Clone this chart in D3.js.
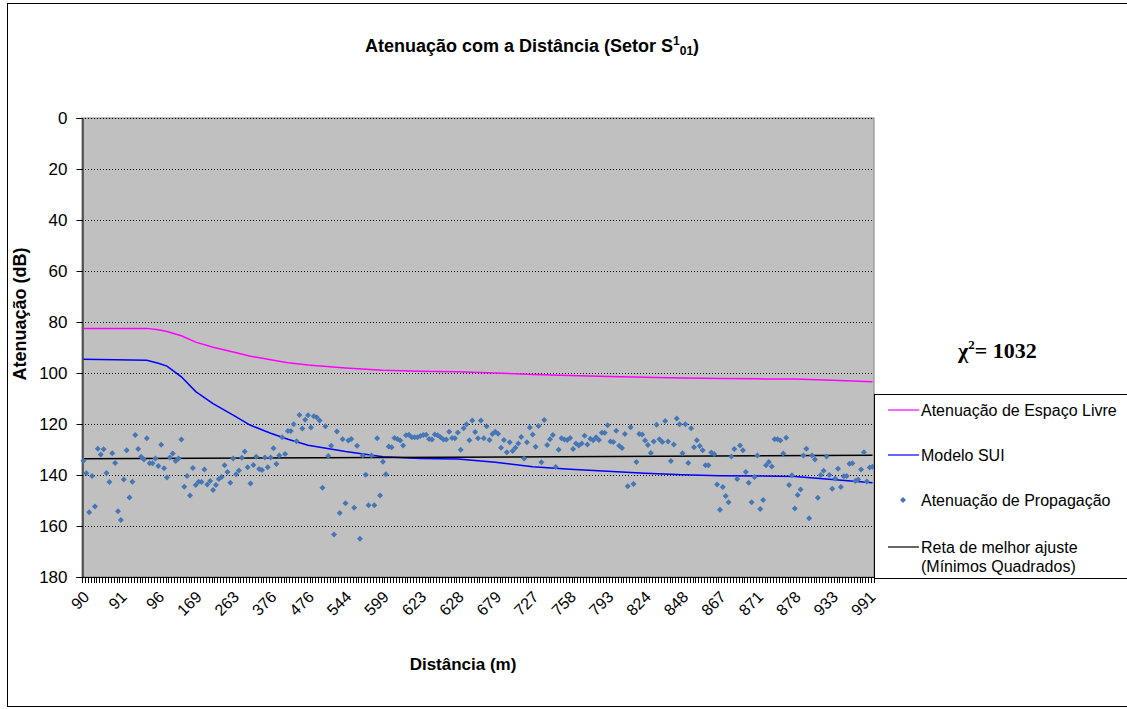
<!DOCTYPE html>
<html>
<head>
<meta charset="utf-8">
<script src="https://cdn.jsdelivr.net/npm/d3@7"></script>
<style>
body { margin: 0; background: #fff; }
</style>
</head>
<body>
<svg width="1127" height="709" font-family="Arial, 'Liberation Sans', sans-serif"></svg>
<script>
// ### Data ###
var distLabels = [90, 91, 96, 169, 263, 376, 476, 544, 599, 623, 628, 679, 727, 758, 793, 824, 848, 867, 871, 878, 933, 991];
var labelEvery = 13;
var yTicks = [0, 20, 40, 60, 80, 100, 120, 140, 160, 180];

// measured attenuation, one per category
var measured = [
  134.4, 139.3, 154.6, 140.4, 152.4, 129.7, 132.0, 129.9, 139.2, 142.7,
  131.5, 135.3, 154.2, 157.6, 141.8, 130.3, 148.8, 142.6, 124.3, 129.8,
  132.8, 133.9, 125.6, 135.4, 135.4, 133.5, 136.5, 128.1, 137.4, 141.0,
  133.1, 131.6, 134.5, 133.5, 126.1, 144.6, 140.4, 148.0, 137.3, 143.9,
  142.6, 142.7, 137.8, 143.7, 142.4, 145.9, 143.9, 141.6, 140.8, 136.2,
  138.8, 143.0, 133.5, 139.7, 138.2, 133.2, 130.8, 137.0, 143.3, 136.1,
  132.8, 137.6, 138.0, 133.1, 137.0, 133.1, 129.5, 135.7, 132.4,
  125.2, 131.8, 122.7, 122.7, 120.1, 126.8, 116.5, 121.8, 118.3, 116.6,
  121.4, 117.0, 117.4, 118.6, 145.0, 120.9, 132.5, 128.5, 163.3, 122.9,
  154.9, 126.0, 151.1, 126.5, 125.9, 152.8, 128.5, 165.0, 132.4, 139.9,
  151.9, 132.4, 151.9, 125.6, 148.0, 134.8, 139.7, 128.8, 129.1, 125.5,
  125.9, 126.5, 128.4, 124.4, 124.2, 125.2, 125.2, 125.2, 124.7, 124.3,
  124.2, 125.9, 126.1, 124.1, 124.4, 125.2, 126.1, 126.1, 123.0, 125.5,
  125.6, 123.3, 130.1, 121.7, 120.1, 126.4, 118.6, 123.1,
  125.6, 118.6, 125.6, 120.9, 126.3, 123.9, 123.0, 123.8, 129.3, 126.3,
  131.1, 127.2, 130.6, 129.3, 127.6, 125.1, 133.5, 127.2, 121.4, 124.1,
  128.9, 120.8, 135.0, 118.4, 128.2, 126.0, 124.3, 136.9, 130.1, 125.6,
  126.1, 126.3, 125.5, 129.8, 127.6, 128.4, 127.6, 124.6, 128.0, 125.8,
  126.4, 125.2, 126.3, 123.4, 123.4, 120.5, 126.9, 127.1, 122.6, 128.5,
  129.4, 123.9, 144.4, 121.3, 143.5, 134.9, 123.9, 124.1, 126.5, 128.2,
  131.4, 126.9, 120.3, 126.0, 127.1, 118.8, 126.9, 134.5, 128.0,
  117.8,
  120.1, 131.5, 120.1, 135.3, 121.7, 129.1, 126.4, 128.6, 130.3, 136.2,
  136.2, 131.2, 131.8, 143.7, 153.6, 144.7, 148.2, 150.7, 132.7, 129.8,
  141.6, 128.4, 130.3, 138.8, 143.0, 150.7, 140.8, 132.4, 153.3, 149.8,
  136.2, 134.9, 136.7, 126.0, 126.0, 126.5, 131.6, 125.4, 143.9, 140.1,
  153.1, 147.8, 145.7, 132.4, 129.7, 157.0, 132.4, 133.9, 148.9, 140.0,
  138.3, 132.7, 140.0, 145.4, 141.4, 137.5, 144.7, 140.5, 140.4, 135.6,
  135.4, 142.4, 141.8, 137.8, 131.1, 142.5, 137.1, 136.8
];

// model curves, read at these category indices
var curveIdx  = [0, 22, 26, 29, 34, 39, 45, 52, 58, 65, 71, 78, 91, 104, 117, 130, 143, 156, 169, 182, 195, 208, 221, 234, 247, 260, 274];
var freeSpace = [82.5, 82.5, 83.0, 83.7, 85.4, 87.9, 89.9, 91.8, 93.4, 94.8, 96.0, 96.9, 98.0, 98.9, 99.3, 99.5, 100.0, 100.6, 101.0, 101.4, 101.7, 102.0, 102.2, 102.3, 102.4, 102.8, 103.4];
var suiModel  = [94.6, 95.0, 96.2, 97.3, 101.5, 107.3, 112.0, 116.5, 120.5, 123.6, 126.0, 128.3, 130.8, 132.8, 133.5, 133.7, 135.0, 136.8, 137.7, 138.5, 139.3, 139.9, 140.3, 140.4, 140.6, 141.8, 143.0];
// least squares line, first and last category
var fitIdx = [0, 274];
var fitVal = [133.6, 132.3];

// ### Canvas ###
var svg = d3.select('svg');
var plot = {left: 82, right: 874, top: 118, bottom: 577};

svg.append('rect')
	.attr('x', 7.5).attr('y', 3.5)
	.attr('width', 1130).attr('height', 703)
	.attr('fill', '#fff').attr('stroke', '#000').attr('stroke-width', 1);

var n = measured.length;
var xScale = d3.scaleBand()
	.domain(d3.range(n))
	.range([plot.left, plot.right])
	.padding(0);
var xc = i => xScale(i) + xScale.bandwidth() / 2;
var yScale = d3.scaleLinear()
	.domain([0, 180])
	.range([plot.top, plot.bottom]);

// plot background
svg.append('rect')
	.attr('x', plot.left).attr('y', plot.top)
	.attr('width', plot.right - plot.left).attr('height', plot.bottom - plot.top)
	.attr('fill', '#c0c0c0').attr('stroke', '#808080');

// gridlines
svg.append('g').selectAll('line')
	.data(yTicks.slice(0, -1))
	.enter().append('line')
	.attr('x1', plot.left).attr('x2', plot.right)
	.attr('y1', d => Math.round(yScale(d)) + 0.5).attr('y2', d => Math.round(yScale(d)) + 0.5)
	.attr('stroke', '#000').attr('stroke-dasharray', '1,2');

// y axis
var yAxis = d3.axisLeft(yScale).tickValues(yTicks).tickSize(6).tickPadding(9);
var gy = svg.append('g').attr('transform', `translate(${plot.left + 0.5},0)`).call(yAxis);
gy.select('.domain').attr('stroke', '#000');
gy.selectAll('text').attr('font-size', 17).attr('font-family', null).attr('fill', '#000');

// x axis: ticks between categories
var gx = svg.append('g');
gx.append('line')
	.attr('x1', plot.left).attr('x2', plot.right)
	.attr('y1', plot.bottom + 0.5).attr('y2', plot.bottom + 0.5)
	.attr('stroke', '#000');
gx.selectAll('.tk')
	.data(d3.range(n + 1))
	.enter().append('line')
	.attr('x1', d => Math.round(d < n ? xScale(d) : plot.right) + 0.5)
	.attr('x2', d => Math.round(d < n ? xScale(d) : plot.right) + 0.5)
	.attr('y1', plot.bottom).attr('y2', plot.bottom + 6)
	.attr('stroke', '#000');
gx.selectAll('.lbl')
	.data(distLabels)
	.enter().append('text')
	.attr('transform', (d, i) => `translate(${xc(i * labelEvery) - 1},${plot.bottom + 13}) rotate(-45)`)
	.attr('text-anchor', 'end')
	.attr('dy', '0.7em')
	.attr('font-size', 16)
	.text(d => d);

// ### Series ###
var line = d3.line().x(d => xc(d[0])).y(d => yScale(d[1]));

svg.append('path')
	.datum(curveIdx.map((c, i) => [c, freeSpace[i]]))
	.attr('d', line).attr('fill', 'none')
	.attr('stroke', '#ff00ff').attr('stroke-width', 1.5);

svg.append('path')
	.datum(curveIdx.map((c, i) => [c, suiModel[i]]))
	.attr('d', line).attr('fill', 'none')
	.attr('stroke', '#0000ff').attr('stroke-width', 1.5);

svg.append('path')
	.datum(fitIdx.map((c, i) => [c, fitVal[i]]))
	.attr('d', line).attr('fill', 'none')
	.attr('stroke', '#000').attr('stroke-width', 1.5);

var diamond = d3.symbol().type(d3.symbolSquare).size(18);
svg.append('g').selectAll('path')
	.data(measured)
	.enter().append('path')
	.attr('d', diamond)
	.attr('transform', (d, i) => `translate(${xc(i)},${yScale(d)}) rotate(45)`)
	.attr('fill', '#4677b4');

// ### Titles ###
var title = svg.append('text')
	.attr('x', 532).attr('y', 52)
	.attr('text-anchor', 'middle')
	.attr('font-size', 18).attr('font-weight', 'bold');
title.append('tspan').text('Atenuação com a Distância (Setor S');
title.append('tspan').attr('dy', -7).attr('font-size', 12).text('1');
title.append('tspan').attr('dy', 10).attr('font-size', 12).text('01');
title.append('tspan').attr('dy', -3).text(')');

svg.append('text')
	.attr('x', 463).attr('y', 670)
	.attr('text-anchor', 'middle')
	.attr('font-size', 17).attr('font-weight', 'bold')
	.text('Distância (m)');

svg.append('text')
	.attr('transform', 'translate(26,314) rotate(-90)')
	.attr('text-anchor', 'middle')
	.attr('font-size', 18).attr('font-weight', 'bold')
	.text('Atenuação (dB)');

var chi = svg.append('text')
	.attr('x', 958).attr('y', 358)
	.style('font-family', "'Liberation Serif', 'Times New Roman', serif")
	.attr('font-size', 22).attr('font-weight', 'bold');
chi.append('tspan').text('χ');
chi.append('tspan').attr('dy', -9).attr('font-size', 13).text('2');
chi.append('tspan').attr('dy', 9).text('= 1032');

// ### Legend ###
var lg = svg.append('g');
lg.append('rect')
	.attr('x', 874.5).attr('y', 394.5)
	.attr('width', 260).attr('height', 184)
	.attr('fill', '#fff').attr('stroke', '#000');
var items = [
	{y: 410, type: 'line', color: '#ff00ff', label: ['Atenuação de Espaço Livre']},
	{y: 455, type: 'line', color: '#0000ff', label: ['Modelo SUI']},
	{y: 500, type: 'dot', color: '#4677b4', label: ['Atenuação de Propagação']},
	{y: 547, type: 'line', color: '#000', label: ['Reta de melhor ajuste', '(Mínimos Quadrados)']}
];
items.forEach(function(it) {
	if (it.type == 'line') {
		lg.append('line')
			.attr('x1', 888).attr('x2', 919)
			.attr('y1', it.y).attr('y2', it.y)
			.attr('stroke', it.color).attr('stroke-width', 1.2);
	} else {
		lg.append('path')
			.attr('d', diamond)
			.attr('transform', `translate(903,${it.y}) rotate(45)`)
			.attr('fill', it.color);
	}
	it.label.forEach(function(t, k) {
		lg.append('text')
			.attr('x', 921).attr('y', it.y + k * 19)
			.attr('dy', '0.35em')
			.attr('font-size', 16)
			.text(t);
	});
});
</script>
</body>
</html>
